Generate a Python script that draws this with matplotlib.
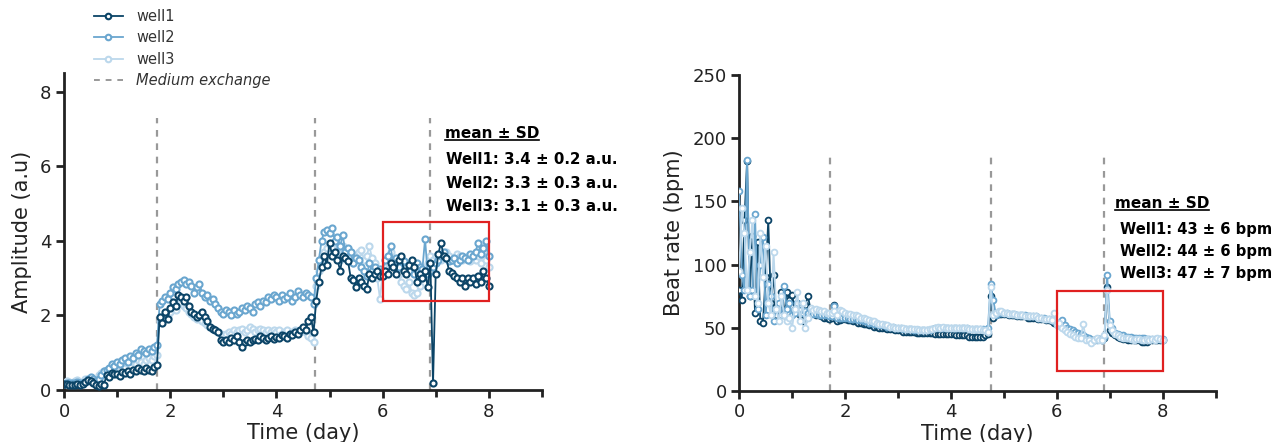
import numpy as np
import matplotlib
matplotlib.use("Agg")
import matplotlib.pyplot as plt
from matplotlib.patches import Rectangle
from matplotlib.lines import Line2D
from matplotlib.ticker import MultipleLocator

# ---------------- data ----------------
time_step_days = 0.05   # sampling interval of the recordings

amp_well1 = [
    0.15,0.15,0.13,0.14,0.14,0.15,0.13,0.16,0.22,0.28,0.25,0.18,0.14,0.12,0.15,0.13,0.40,0.35,0.45,0.42,
    0.42,0.38,0.48,0.45,0.50,0.44,0.55,0.50,0.60,0.55,0.52,0.58,0.55,0.50,0.62,0.66,1.95,1.80,2.10,1.90,
    2.20,2.35,2.25,2.55,2.50,2.40,2.50,2.25,2.10,2.05,1.95,2.00,2.10,1.95,1.85,1.70,1.65,1.60,1.55,1.35,
    1.30,1.35,1.30,1.40,1.35,1.45,1.28,1.15,1.30,1.35,1.30,1.35,1.38,1.35,1.45,1.40,1.35,1.40,1.45,1.38,
    1.42,1.40,1.48,1.45,1.40,1.50,1.48,1.55,1.50,1.62,1.70,1.60,1.85,1.95,1.55,2.40,2.90,3.30,3.60,3.35,
    3.95,3.60,3.70,3.50,3.20,3.60,3.55,3.45,3.00,2.95,2.75,3.00,2.90,2.80,2.70,3.10,3.00,3.10,3.20,3.05,
    3.05,3.20,3.10,3.40,3.30,3.10,3.50,3.60,3.20,3.10,3.35,3.50,3.30,2.90,3.10,3.00,3.20,2.75,3.40,0.18,
    3.10,3.65,3.95,3.60,3.55,3.20,3.15,3.05,3.00,2.90,3.00,2.80,3.00,2.90,3.00,2.85,3.05,2.90,3.20,3.00,
    2.80]
amp_well2 = [
    0.15,0.18,0.20,0.18,0.20,0.22,0.20,0.18,0.22,0.30,0.35,0.30,0.25,0.30,0.40,0.50,0.55,0.60,0.70,0.65,
    0.75,0.70,0.80,0.85,0.75,0.90,0.85,1.00,0.95,1.10,1.05,1.00,1.10,1.05,1.15,1.20,2.30,2.40,2.50,2.45,
    2.60,2.75,2.70,2.85,2.90,2.95,2.85,2.90,2.80,2.60,2.75,2.85,2.60,2.50,2.55,2.40,2.45,2.30,2.20,2.10,
    2.05,2.15,2.10,2.00,2.15,2.05,2.10,2.20,2.15,2.25,2.20,2.10,2.30,2.35,2.25,2.40,2.35,2.50,2.45,2.55,
    2.50,2.40,2.55,2.45,2.50,2.60,2.40,2.50,2.65,2.55,2.50,2.60,2.55,2.50,2.30,3.00,3.50,4.00,4.25,4.30,
    4.20,4.35,4.00,4.10,3.85,4.15,3.70,3.80,3.70,3.40,3.55,3.50,3.30,3.20,3.05,3.40,3.20,3.30,3.10,3.25,
    3.20,3.50,3.60,3.85,3.40,3.55,3.30,3.50,3.45,3.30,3.20,3.40,3.10,3.40,3.30,3.25,4.05,3.10,3.20,3.30,
    3.40,3.50,3.60,3.70,3.55,3.45,3.50,3.55,3.40,3.50,3.60,3.55,3.50,3.65,3.60,3.70,3.95,3.65,3.80,4.00,
    3.60]
amp_well3 = [
    0.20,0.25,0.22,0.20,0.25,0.28,0.22,0.20,0.30,0.25,0.25,0.30,0.25,0.40,0.45,0.50,0.55,0.50,0.60,0.55,
    0.60,0.55,0.65,0.60,0.70,0.65,0.75,0.70,0.80,0.75,0.70,0.80,0.85,0.80,0.90,0.95,1.85,1.95,2.00,1.95,
    2.10,2.20,2.15,2.30,2.35,2.25,2.20,2.10,2.05,1.95,1.90,2.00,1.85,1.80,1.75,1.70,1.65,1.60,1.55,1.50,
    1.45,1.50,1.55,1.50,1.60,1.55,1.60,1.65,1.55,1.60,1.70,1.65,1.55,1.60,1.65,1.60,1.55,1.60,1.55,1.60,
    1.55,1.60,1.50,1.55,1.60,1.50,1.55,1.60,1.50,1.55,1.60,1.55,1.45,1.40,1.30,2.80,3.20,3.50,3.70,3.80,
    3.90,3.80,3.95,3.70,3.50,3.85,3.60,3.70,3.65,3.40,3.60,3.70,3.75,3.50,3.60,3.85,3.55,3.40,3.00,2.45,
    3.10,3.20,3.40,3.70,3.50,3.30,3.10,2.90,2.80,2.70,2.90,2.60,2.55,2.60,2.80,3.00,3.30,3.40,3.60,3.50,
    3.60,3.55,3.50,3.65,3.70,3.60,3.50,3.55,3.65,3.60,3.50,3.55,3.60,3.45,3.55,3.50,3.60,3.40,3.70,3.50,
    3.30]

bpm_well1 = [
    80,72,135,182,75,123,62,118,55,54,90,135,70,92,60,65,78,60,78,72,
    76,65,70,60,55,68,75,64,62,60,60,59,58,58,57,58,68,55,56,57,
    57,56,56,55,55,54,54,53,53,52,52,51,51,50,50,50,49,49,49,48,
    48,48,47,47,47,47,47,46,46,46,46,46,46,46,45,45,45,45,45,45,
    45,45,44,44,44,44,44,43,43,43,43,43,43,44,45,75,58,60,61,61,
    61,61,60,60,60,59,59,59,59,58,58,58,58,57,57,57,56,56,55,54,
    53,52,51,50,49,48,47,46,45,44,43,42,41,40,40,41,41,40,42,82,
    48,46,44,43,42,41,41,40,40,40,40,40,39,39,39,40,40,40,40,40,
    40]
bpm_well2 = [
    158,92,80,183,75,80,140,65,100,122,60,85,75,55,65,70,60,83,65,70,
    60,62,70,64,62,63,62,62,61,61,60,60,60,60,59,59,67,58,58,58,
    58,58,57,57,57,56,56,55,55,54,54,53,53,52,52,52,51,51,51,50,
    50,50,49,49,49,49,48,48,48,48,48,48,48,49,50,50,50,50,50,50,
    50,50,50,50,50,50,50,49,49,49,49,49,49,48,50,85,72,60,62,62,
    62,62,61,61,61,60,60,60,60,59,59,59,59,58,58,58,57,57,56,55,
    54,54,56,52,50,49,48,47,46,45,44,43,42,40,40,40,41,40,43,92,
    55,50,46,45,44,44,43,43,43,42,42,42,42,42,41,41,41,41,41,41,
    41]
bpm_well3 = [
    95,145,125,80,110,135,75,70,125,90,115,70,60,110,65,55,75,60,55,58,
    50,65,78,55,70,50,58,66,64,65,64,63,63,62,62,62,63,60,64,63,
    62,61,61,60,60,59,58,58,57,56,55,55,54,53,53,52,52,51,51,50,
    50,50,50,49,49,49,49,49,48,48,48,48,49,49,50,51,50,51,50,50,
    50,50,50,50,50,50,50,49,49,49,49,49,48,48,47,82,60,62,63,63,
    62,62,61,61,61,60,60,60,59,59,59,59,59,58,58,57,57,57,56,62,
    52,54,50,48,47,45,44,43,42,42,53,40,40,38,40,42,40,40,44,80,
    52,48,45,44,43,42,42,42,41,40,41,41,40,40,41,40,41,40,42,41,
    40]

well_labels = ["well1", "well2", "well3"]
medium_exchange_amp = [1.75, 4.73, 6.9]
medium_exchange_bpm = [1.72, 4.75, 6.9]
amp_stats = ["Well1: 3.4 \u00b1 0.2 a.u.", "Well2: 3.3 \u00b1 0.3 a.u.", "Well3: 3.1 \u00b1 0.3 a.u."]
bpm_stats = ["Well1: 43 \u00b1 6 bpm", "Well2: 44 \u00b1 6 bpm", "Well3: 47 \u00b1 7 bpm"]

# ---------------- style ----------------
colors = ["#0b4467", "#6aa6cf", "#bcd8ec"]
plt.rcParams['font.family'] = ['DejaVu Sans']

fig = plt.figure(figsize=(12.81, 4.42), dpi=100)
ax1 = fig.add_axes([0.050, 0.1176, 0.373, 0.717])
ax2 = fig.add_axes([0.577, 0.1154, 0.372, 0.715])

t_amp = np.arange(len(amp_well1)) * time_step_days
t_bpm = np.arange(len(bpm_well1)) * time_step_days

amp_series = [amp_well1, amp_well2, amp_well3]
bpm_series = [bpm_well1, bpm_well2, bpm_well3]

handles = []
for i in [2, 1, 0]:
    h, = ax1.plot(t_amp, amp_series[i], '-o', color=colors[i], lw=1.3, ms=4.4,
                  mfc='white', mec=colors[i], mew=1.5, label=well_labels[i], zorder=3 + (2 - i))
    handles.append(h)
for i in [0, 1, 2]:
    ax2.plot(t_bpm, bpm_series[i], '-o', color=colors[i], lw=1.3, ms=4.2,
             mfc='white', mec=colors[i], mew=1.3, zorder=3 + i)

for x in medium_exchange_amp:
    ax1.plot([x, x], [0, 7.3], ls=(0, (3, 3)), color='#999999', lw=1.6, zorder=2)
for x in medium_exchange_bpm:
    ax2.plot([x, x], [0, 190], ls=(0, (3, 3)), color='#999999', lw=1.6, zorder=2)

ax1.add_patch(Rectangle((6.0, 2.4), 2.0, 2.1, fill=False, ec='#e02020', lw=1.6, zorder=6))
ax2.add_patch(Rectangle((6.0, 16), 2.0, 63, fill=False, ec='#e02020', lw=1.6, zorder=6))

for ax, ylim, ymaj in [(ax1, (0, 8.5), 2), (ax2, (0, 250), 50)]:
    ax.set_xlim(0, 9)
    ax.set_ylim(*ylim)
    ax.spines['top'].set_visible(False)
    ax.spines['right'].set_visible(False)
    for s in ['left', 'bottom']:
        ax.spines[s].set_linewidth(2)
        ax.spines[s].set_color('#222222')
    ax.xaxis.set_major_locator(MultipleLocator(2))
    ax.xaxis.set_minor_locator(MultipleLocator(1))
    ax.yaxis.set_major_locator(MultipleLocator(ymaj))
    ax.tick_params(axis='both', which='major', length=6, width=2, labelsize=13, colors='#222222', pad=3)
    ax.tick_params(axis='x', which='minor', length=5, width=2, colors='#222222')
    ax.set_xlabel("Time (day)", fontsize=15, labelpad=2, color='#222222')
ax1.set_ylabel("Amplitude (a.u)", fontsize=15, color='#222222', labelpad=6)
ax2.set_ylabel("Beat rate (bpm)", fontsize=15, color='#222222', labelpad=6)
ax1.set_yticks([0, 2, 4, 6, 8])

# stats text
hdr1 = ax1.text(7.17, 6.87, "mean \u00b1 SD", fontsize=11, fontweight='bold', va='center', ha='left')
for k, s in enumerate(amp_stats):
    ax1.text(7.2, [6.17, 5.53, 4.93][k], s, fontsize=10.8, fontweight='bold', va='center', ha='left')
hdr2 = ax2.text(7.09, 148.6, "mean \u00b1 SD", fontsize=11, fontweight='bold', va='center', ha='left')
for k, s in enumerate(bpm_stats):
    ax2.text(7.19, [128, 110.7, 93][k], s, fontsize=10.6, fontweight='bold', va='center', ha='left')

# legend
dash_handle = Line2D([], [], ls=(0, (3, 3)), color='#999999', lw=1.4)
leg_handles = handles[::-1] + [dash_handle]
leg = fig.legend(leg_handles, well_labels + ["Medium exchange"], loc='upper left',
                 bbox_to_anchor=(0.063, 1.01), frameon=False, fontsize=10.5,
                 handlelength=2.0, labelspacing=0.45, handletextpad=0.9)
for lh in leg.legend_handles[:3]:
    lh.set_markersize(4)
leg.get_texts()[3].set_style('italic')
for txt in leg.get_texts():
    txt.set_color('#333333')

# underline headers
fig.canvas.draw()
r = fig.canvas.get_renderer()
inv = fig.transFigure.inverted()
for h in [hdr1, hdr2]:
    bb = h.get_window_extent(r)
    (x0, y0), (x1, _) = inv.transform([(bb.x0, bb.y0), (bb.x1, bb.y1)])
    fig.add_artist(Line2D([x0, x1], [y0 + 0.002, y0 + 0.002], color='black', lw=1.2,
                          transform=fig.transFigure))

fig.savefig("out.png", dpi=100)
